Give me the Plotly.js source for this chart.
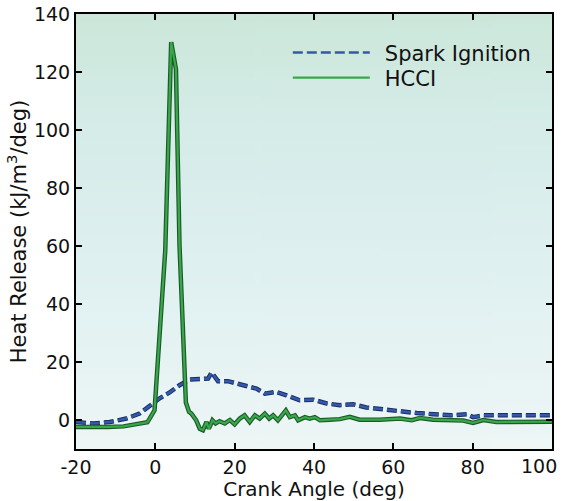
<!DOCTYPE html>
<html>
<head>
<meta charset="utf-8">
<script src="https://cdn.plot.ly/plotly-3.0.1.min.js"></script>
<style>html,body{margin:0;padding:0;background:#fff;}#chart{width:564px;height:501px;}</style>
</head>
<body>
<div id="chart"></div>
<script>
// Spark Ignition series
var siAngle = [-20,-15.7,-11.5,-7.3,-4,-1.4,1.1,3.6,6.1,8.7,11.2,13.3,14.2,15.8,18.3,21.3,23.8,25.5,27.6,30.5,33.1,36.4,39.8,43.2,46.5,49.9,53.2,57.4,61.7,65.9,70.1,74.3,78.5,80.1,82.7,88.6,100];
var siHeat  = [-0.7,-1.2,-0.7,0.5,2.2,5.0,7.5,9.5,12,14,14.3,14.3,16.4,13.4,13.4,12.3,11.6,10.8,9.1,9.7,8.5,6.8,7.0,5.7,5.1,5.4,4.3,3.6,3.1,2.4,2.0,1.6,2.0,1.0,1.6,1.6,1.6];
// HCCI series
var hcciAngle = [-20,-16,-12,-8,-4,-2,-0.2,0.7,1.6,2.5,4.0,5.2,6.1,7.0,7.7,8.5,9.1,10.3,11.2,12.0,12.9,13.5,14.4,15.2,16.2,17.5,18.8,20,21.3,22.5,23.8,25.1,26.3,27.6,28.7,29.7,30.9,32.9,33.9,35.2,36,37.7,38.9,40.2,41.5,44,46.5,49,51.5,56.6,61.7,64.6,66.7,70,74.3,77.6,80.1,82.7,86,90.2,100];
var hcciHeat  = [-2.4,-2.5,-2.4,-2.2,-1.4,-0.8,3.3,20.6,39.6,58.5,130.3,121,60,30,6,2.8,2.2,-0.1,-3.0,-3.5,-0.7,-3.0,-0.1,-1.2,-0.4,-1.2,0,-1.5,0.5,1.6,-0.7,1.6,0.5,2.2,0.5,1.6,-0.1,3.3,1.0,1.6,-0.1,1.0,0.5,1.0,-0.1,0.1,0.3,1.1,0.1,0.1,0.5,-0.1,0.7,0.1,0,-0.2,-1.0,0,-0.7,-0.6,-0.6];

var xTicks = [-20,0,20,40,60,80,100];
var xTickLabels = ['-20','0','20','40','60','80',''];   // last label drawn right-aligned below
var xLastLabel = '100';
var yTicks = [0,20,40,60,80,100,120,140];
var seriesNames = ['Spark Ignition','HCCI'];

// background gradient generated at runtime
var cv = document.createElement('canvas');
cv.width = 4; cv.height = 200;
var cx = cv.getContext('2d');
var grd = cx.createLinearGradient(0,0,0,200);
grd.addColorStop(0,'rgb(204,231,218)');
grd.addColorStop(0.25,'rgb(213,236,232)');
grd.addColorStop(0.55,'rgb(222,240,240)');
grd.addColorStop(1,'rgb(238,246,246)');
cx.fillStyle = grd; cx.fillRect(0,0,4,200);
var bgURI = cv.toDataURL();

var traces = [
  {x: siAngle, y: siHeat, type:'scatter', mode:'lines', showlegend:false, hoverinfo:'skip',
   line:{color:'#182d66', width:4.5, dash:'10px,4px'}},
  {x: siAngle, y: siHeat, type:'scatter', mode:'lines', name: seriesNames[0],
   line:{color:'#3559a8', width:2.5, dash:'10px,4px'}},
  {x: hcciAngle, y: hcciHeat, type:'scatter', mode:'lines', showlegend:false, hoverinfo:'skip',
   line:{color:'#1d5a2a', width:4.5}},
  {x: hcciAngle, y: hcciHeat, type:'scatter', mode:'lines', name: seriesNames[1],
   line:{color:'#38a84a', width:2.2}}
];

var fontFam = '"DejaVu Sans", Arial, sans-serif';
var layout = {
  width:564, height:501,
  margin:{l:76, r:12, t:14, b:52},
  paper_bgcolor:'#ffffff',
  plot_bgcolor:'#e3f1f0',
  font:{family:fontFam, color:'#111', size:19},
  images:[{source:bgURI, xref:'paper', yref:'paper', x:0, y:1, sizex:1, sizey:1,
           sizing:'stretch', xanchor:'left', yanchor:'top', layer:'below'}],
  xaxis:{range:[-20,100], tickvals:xTicks, ticktext:xTickLabels,
         ticks:'inside', ticklen:6, tickwidth:2, tickcolor:'#000',
         showline:true, linecolor:'#000', linewidth:2, mirror:'allticks',
         showgrid:false, zeroline:false,
         tickfont:{size:19, family:fontFam, color:'#111'},
         title:{text:'Crank Angle (deg)', font:{size:20, family:fontFam, color:'#111'}, standoff:3}},
  yaxis:{range:[-10,140], tickvals:yTicks, ticktext:yTicks.map(String),
         ticks:'inside', ticklen:6, tickwidth:2, tickcolor:'#000',
         showline:true, linecolor:'#000', linewidth:2, mirror:'allticks',
         showgrid:false, zeroline:false, ticklabeloverflow:'allow',
         tickfont:{size:19, family:fontFam, color:'#111'},
         title:{text:'Heat Release (kJ/m<sup>3</sup>/deg)', font:{size:21, family:fontFam, color:'#111'}, standoff:2}},
  annotations:[{text:xLastLabel, xref:'x', yref:'paper', x:xTicks[xTicks.length-1], y:0,
                xanchor:'right', yanchor:'middle', xshift:7, yshift:-17, showarrow:false,
                font:{size:19, family:fontFam, color:'#111'}}],
  legend:{x:0.445, y:0.958, xanchor:'left', yanchor:'top', bgcolor:'rgba(0,0,0,0)',
          borderwidth:0, itemwidth:87, font:{size:21, family:fontFam, color:'#111'},
          tracegroupgap:0}
};

Plotly.newPlot('chart', traces, layout, {displayModeBar:false, staticPlot:true}).then(function(gd){
  // lengthen the legend line samples
  gd.querySelectorAll('.legend .legendlines path').forEach(function(p){ p.setAttribute('d','M5,0h77'); });
  // tighten legend row spacing
  var items = gd.querySelectorAll('.legend .traces');
  items.forEach(function(g, i){
    var t = g.getAttribute('transform') || '';
    var m = t.match(/translate\(\s*([-\d.]+)[ ,]+([-\d.]+)\s*\)/);
    if (m && i > 0) {
      g.setAttribute('transform', 'translate(' + m[1] + ',' + (parseFloat(m[2]) - 5 * i) + ')');
    }
  });
});
</script>
</body>
</html>
